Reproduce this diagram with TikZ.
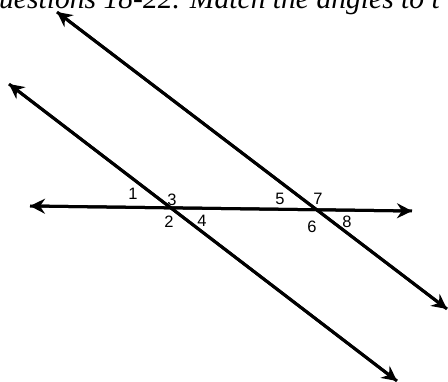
\documentclass[tikz,border=0pt]{standalone}
\usepackage{fontspec}
\setmainfont{Liberation Serif}
\newfontfamily\labelfont{Liberation Sans}
\usetikzlibrary{arrows.meta}
\tikzset{
  line/.style={line width=3pt, -{Stealth[length=15pt, width=15pt, inset=5pt]}},
  anglelabel/.style={font=\labelfont\fontsize{16.5}{16.5}\selectfont, inner sep=0pt},
}
\begin{document}
\begin{tikzpicture}[x=1pt, y=-1pt]
  \useasboundingbox (0,0) rectangle (448,382);
  \clip (0,0) rectangle (448,382);
  % heading, cut off at the top
  \node[anchor=base west, inner sep=0pt, font=\itshape\fontsize{29.6}{29.6}\selectfont] (heading) at (-1,8.5) {uestions 18-22. Match the angles to t};
  % end points of the lines
  \coordinate (lstart) at (9,84);
  \coordinate (lend) at (397,381);
  \coordinate (ustart) at (57,12);
  \coordinate (uend) at (447,309);
  \coordinate (hleft) at (30,206);
  \coordinate (hright) at (412,211);
  \draw[line] (lend) -- (lstart);
  \draw[line] (lstart) -- (lend);
  \draw[line] (uend) -- (ustart);
  \draw[line] (ustart) -- (uend);
  \draw[line] (hright) -- (hleft);
  \draw[line] (hleft) -- (hright);
  % angle numbers
  \node[anglelabel] (a1) at (133,194) {1};
  \node[anglelabel] (a2) at (169,222) {2};
  \node[anglelabel] (a3) at (172,200) {3};
  \node[anglelabel] (a4) at (202,221) {4};
  \node[anglelabel] (a5) at (280,199) {5};
  \node[anglelabel] (a6) at (312,227) {6};
  \node[anglelabel] (a7) at (318,199) {7};
  \node[anglelabel] (a8) at (347,222) {8};
\end{tikzpicture}
\end{document}
